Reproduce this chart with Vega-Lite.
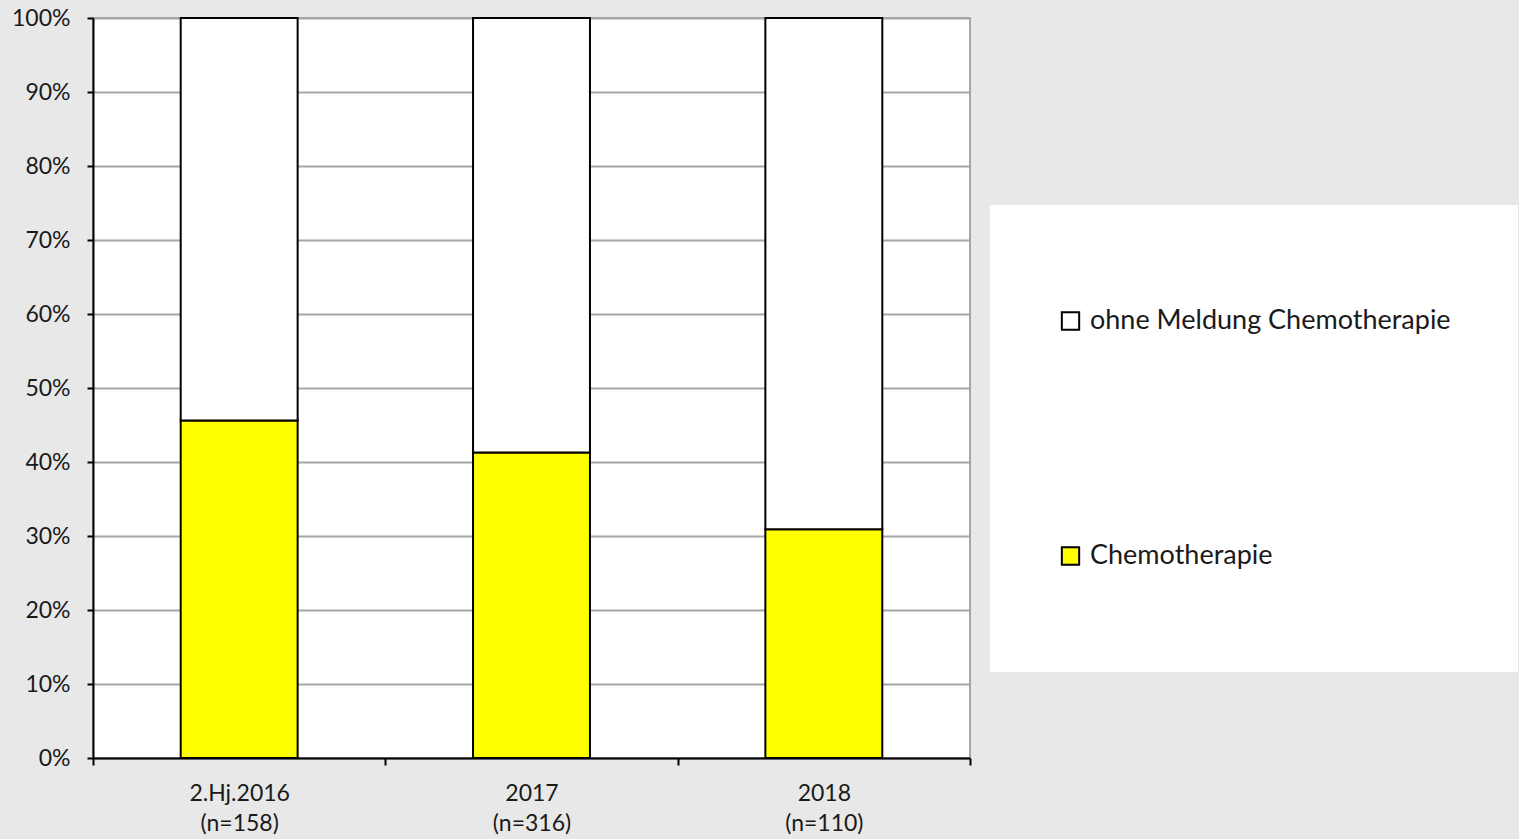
{
  "$schema": "https://vega.github.io/schema/vega-lite/v6.json",
  "width": 877,
  "height": 740,
  "autosize": {"type": "none"},
  "padding": {"left": 93, "top": 18, "right": 549, "bottom": 81},
  "background": "#e8e8e8",
  "config": {
    "view": {"fill": "white", "stroke": "#a6a6a6", "strokeWidth": 2},
    "font": "Lato"
  },
  "data": {
    "values": [
      {"period": "2.Hj.2016 (n=158)", "category": "Chemotherapie", "pct": 45.6},
      {"period": "2.Hj.2016 (n=158)", "category": "ohne Meldung Chemotherapie", "pct": 54.4},
      {"period": "2017 (n=316)", "category": "Chemotherapie", "pct": 41.3},
      {"period": "2017 (n=316)", "category": "ohne Meldung Chemotherapie", "pct": 58.7},
      {"period": "2018 (n=110)", "category": "Chemotherapie", "pct": 30.9},
      {"period": "2018 (n=110)", "category": "ohne Meldung Chemotherapie", "pct": 69.1}
    ]
  },
  "mark": {"type": "bar", "stroke": "black", "strokeWidth": 2, "width": {"band": 0.4}},
  "encoding": {
    "x": {
      "field": "period",
      "type": "nominal",
      "sort": null,
      "scale": {"paddingInner": 0, "paddingOuter": 0},
      "axis": {
        "title": null,
        "labelAngle": 0,
        "labelExpr": "split(datum.label, ' ')",
        "labelFontSize": 23,
        "labelColor": "#1a1a1a",
        "labelPadding": 17,
        "labelLineHeight": 30,
        "domainColor": "black",
        "domainWidth": 2,
        "tickColor": "black",
        "tickWidth": 2,
        "tickSize": 7,
        "tickBand": "extent",
        "grid": false
      }
    },
    "y": {
      "field": "pct",
      "type": "quantitative",
      "stack": "normalize",
      "scale": {"domain": [0, 1], "nice": false},
      "axis": {
        "title": null,
        "format": ".0%",
        "values": [0, 0.1, 0.2, 0.3, 0.4, 0.5, 0.6, 0.7, 0.8, 0.9, 1],
        "labelFontSize": 23,
        "labelColor": "#1a1a1a",
        "labelPadding": 17,
        "domainColor": "black",
        "domainWidth": 2,
        "tickColor": "black",
        "tickWidth": 2,
        "tickSize": 6,
        "grid": true,
        "gridColor": "#a6a6a6",
        "gridWidth": 2
      }
    },
    "color": {
      "field": "category",
      "type": "nominal",
      "scale": {
        "domain": ["ohne Meldung Chemotherapie", "Chemotherapie"],
        "range": ["#ffffff", "#ffff00"]
      },
      "legend": {
        "title": null,
        "orient": "none",
        "legendX": 897,
        "legendY": 187,
        "fillColor": "white",
        "padding": 67,
        "symbolType": "square",
        "symbolSize": 300,
        "symbolStrokeColor": "black",
        "symbolStrokeWidth": 2,
        "labelFontSize": 27,
        "labelColor": "#1a1a1a",
        "labelLimit": 700,
        "labelOffset": 6,
        "rowPadding": 137,
        "clipHeight": 98
      }
    },
    "order": {"field": "category", "sort": "ascending"}
  }
}
